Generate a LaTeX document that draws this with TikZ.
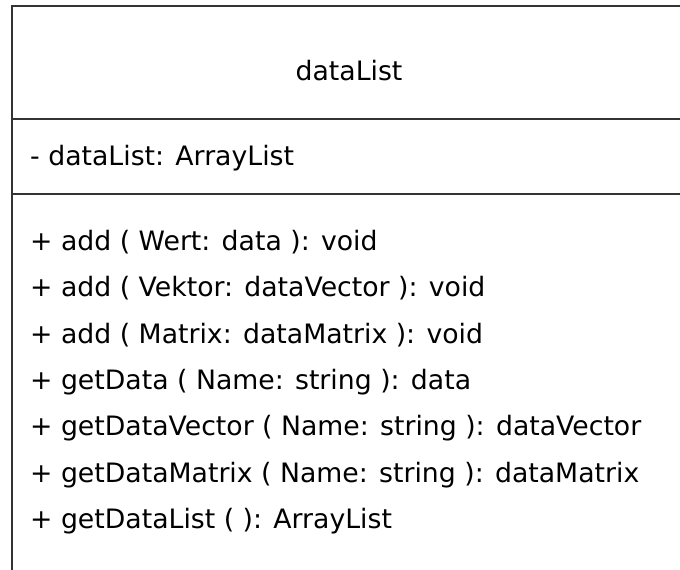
\documentclass[tikz,border=0pt]{standalone}
\usepackage{fontspec}
\setmainfont{DejaVu Sans}
\begin{document}
\begin{tikzpicture}[x=1pt, y=-1pt,
  frame/.style={draw=black!80, line width=1.3pt},
  member/.style={anchor=base west, inner sep=0pt, font=\fontsize{26.7}{32}\selectfont},
  classname/.style={anchor=base, inner sep=0pt, font=\fontsize{26.7}{32}\selectfont}]
  \useasboundingbox[fill=white] (0,0) rectangle (680,570);

  % class frame: top edge, left edge and compartment separators
  \coordinate (tl) at (12,6);
  \coordinate (bl) at (12,572);
  \draw[frame] (682,6) -- (tl) -- (bl);
  \draw[frame] (12,119) -- (682,119);
  \draw[frame] (12,194) -- (682,194);

  % class name
  \node[classname] (name) at (349,80.5) {dataList};

  % attributes
  \node[member] (a1) at (30,165) {- dataList: ArrayList};

  % operations
  \node[member] (m1) at (30,250.5) {+ add ( Wert: data ): void};
  \node[member] (m2) at (30,296.8) {+ add ( Vektor: dataVector ): void};
  \node[member] (m3) at (30,343.1) {+ add ( Matrix: dataMatrix ): void};
  \node[member] (m4) at (30,389.4) {+ getData ( Name: string ): data};
  \node[member] (m5) at (30,435.7) {+ getDataVector ( Name: string ): dataVector};
  \node[member] (m6) at (30,482.0) {+ getDataMatrix ( Name: string ): dataMatrix};
  \node[member] (m7) at (30,528.3) {+ getDataList ( ): ArrayList};
\end{tikzpicture}
\end{document}
